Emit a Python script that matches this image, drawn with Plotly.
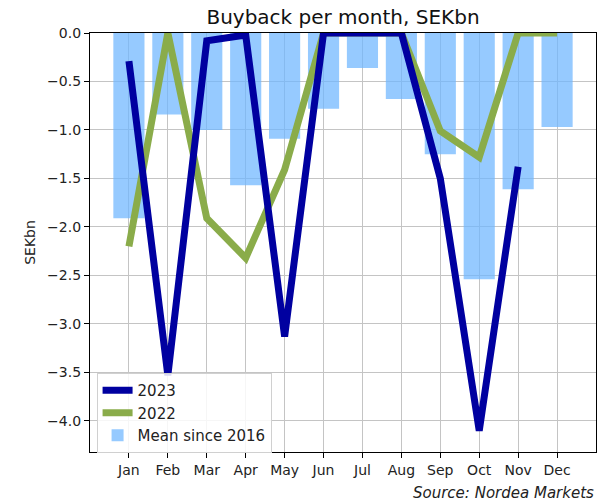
import plotly.graph_objects as go

months = ["Jan", "Feb", "Mar", "Apr", "May", "Jun", "Jul", "Aug", "Sep", "Oct", "Nov", "Dec"]
mean_since_2016 = [-1.91, -0.84, -1.00, -1.57, -1.09, -0.78, -0.36, -0.68, -1.25, -2.54, -1.61, -0.97]
y2023 = [-0.29, -3.53, -0.08, -0.02, -3.13, 0.0, 0.0, 0.0, -1.50, -4.10, -1.38, None]
y2022 = [-2.20, 0.0, -1.91, -2.32, -1.41, 0.0, 0.0, 0.0, -1.01, -1.28, 0.0, 0.0]
ytick_vals = [0.0, -0.5, -1.0, -1.5, -2.0, -2.5, -3.0, -3.5, -4.0]
ytick_text = ["0.0", "\u22120.5", "\u22121.0", "\u22121.5", "\u22122.0", "\u22122.5", "\u22123.0", "\u22123.5", "\u22124.0"]

xpos = list(range(len(months)))
FONT = "DejaVu Sans"

W, H = 616, 503

fig = go.Figure()
fig.add_trace(go.Bar(
    x=xpos, y=mean_since_2016, name="Mean since 2016", width=0.8,
    marker=dict(color="rgba(110,182,255,0.72)", line=dict(width=0)),
    legendrank=3,
))
fig.add_trace(go.Scatter(
    x=xpos, y=y2022, name="2022", mode="lines",
    line=dict(color="#8aac4a", width=7), legendrank=2,
))
fig.add_trace(go.Scatter(
    x=xpos, y=y2023, name="2023", mode="lines",
    line=dict(color="#0000a0", width=7), legendrank=1,
))

fig.update_layout(
    width=W, height=H,
    margin=dict(l=90, r=20, t=33, b=51, autoexpand=False),
    paper_bgcolor="white", plot_bgcolor="white",
    font=dict(family=FONT, size=14, color="#222222"),
    title=dict(text="Buyback per month, SEKbn", x=0.5, xref="paper", xanchor="center",
               y=1 - 17 / H, yref="container", yanchor="middle",
               font=dict(family=FONT, size=20, color="#111111")),
    showlegend=True,
    legend=dict(x=0.013, y=0.1885, xanchor="left", yanchor="top",
                bgcolor="rgba(255,255,255,0.85)", bordercolor="#d0d0d0", borderwidth=1,
                font=dict(family=FONT, size=15, color="#222222"),
                tracegroupgap=0, itemwidth=30),
    bargap=0.2,
)
fig.update_xaxes(
    range=[-1, 12], tickmode="array", tickvals=xpos, ticktext=months,
    showgrid=True, gridcolor="#c4c4c4", gridwidth=1,
    showline=True, linecolor="black", linewidth=1.2, mirror=True,
    ticks="outside", ticklen=5, tickcolor="black", tickwidth=1,
    tickfont=dict(family=FONT, size=14, color="#222222"), zeroline=False,
)
fig.update_yaxes(
    range=[-4.32, 0], tickmode="array", tickvals=ytick_vals, ticktext=ytick_text,
    showgrid=True, gridcolor="#c4c4c4", gridwidth=1,
    showline=True, linecolor="black", linewidth=1.2, mirror=True,
    ticks="outside", ticklen=5, tickcolor="black", tickwidth=1,
    tickfont=dict(family=FONT, size=14, color="#222222"), zeroline=False,
    title=dict(text="SEKbn", font=dict(family=FONT, size=14, color="#222222"), standoff=8),
)
fig.add_annotation(
    text="Source: Nordea Markets", xref="paper", yref="paper", x=1.0, y=(452 - 493.3) / 419,
    xanchor="right", yanchor="middle", showarrow=False,
    font=dict(family=FONT, size=15, style="italic", color="#222222"),
)
fig.write_html(
    "out.html",
    config={"displayModeBar": False},
    post_script="document.body.style.margin='0';document.body.style.overflow='hidden';",
)
